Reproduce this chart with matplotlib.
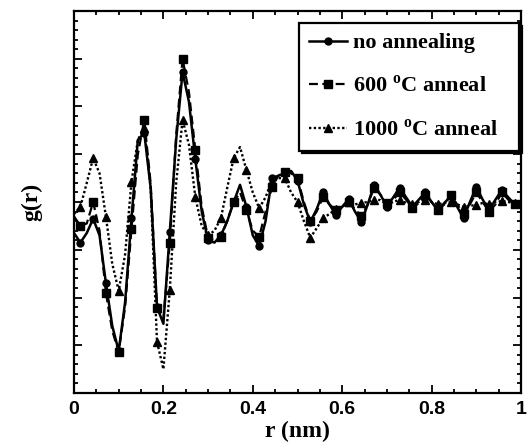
import numpy as np
import matplotlib
matplotlib.use("Agg")
import matplotlib.pyplot as plt
from matplotlib.ticker import MultipleLocator

plt.rcParams["mathtext.fontset"] = "custom"
plt.rcParams["mathtext.rm"] = "Liberation Serif:bold"
plt.rcParams["mathtext.bf"] = "Liberation Serif:bold"

# r grid (nm), step 1/70
r = np.arange(71) / 70.0

g_none = [3.35, 3.15, 3.35, 3.65, 3.30, 2.30, 1.40, 0.88, 1.90, 3.66,
          5.30, 5.45, 4.30, 1.80, 1.45, 3.37, 5.30, 6.72, 6.10, 4.90,
          3.80, 3.20, 3.15, 3.30, 3.60, 4.00, 4.36, 3.90, 3.30, 3.08,
          3.60, 4.50, 4.55, 4.60, 4.65, 4.45, 3.95, 3.58, 3.85, 4.20,
          3.95, 3.73, 3.90, 4.06, 3.80, 3.58, 3.95, 4.36, 4.15, 3.90,
          4.10, 4.30, 4.10, 3.90, 4.05, 4.20, 4.00, 3.83, 3.98, 4.12,
          3.90, 3.66, 4.00, 4.31, 4.05, 3.83, 4.05, 4.25, 4.10, 3.95,
          3.98]

g_600 = [3.70, 3.50, 3.55, 4.00, 3.40, 2.09, 1.30, 0.86, 1.80, 3.43,
         5.00, 5.72, 4.40, 1.78, 1.55, 3.14, 5.40, 7.00, 6.30, 5.09,
         3.90, 3.25, 3.20, 3.27, 3.60, 4.00, 4.20, 3.83, 3.40, 3.27,
         3.80, 4.31, 4.55, 4.63, 4.60, 4.50, 4.00, 3.60, 3.80, 4.10,
         3.95, 3.83, 3.90, 4.00, 3.85, 3.70, 3.95, 4.30, 4.15, 3.98,
         4.05, 4.20, 4.05, 3.87, 3.98, 4.15, 4.00, 3.83, 3.95, 4.15,
         3.95, 3.75, 3.95, 4.20, 4.00, 3.79, 3.95, 4.20, 4.05, 3.95,
         3.98]

g_1000 = [3.75, 3.90, 4.40, 4.92, 4.60, 3.69, 2.70, 2.14, 2.90, 4.42,
          5.30, 5.55, 4.30, 1.07, 0.50, 2.16, 4.40, 5.72, 5.20, 4.10,
          3.50, 3.30, 3.40, 3.66, 4.30, 4.92, 5.15, 4.67, 4.20, 3.87,
          4.10, 4.45, 4.50, 4.50, 4.20, 4.00, 3.60, 3.25, 3.45, 3.66,
          3.75, 3.85, 3.90, 4.00, 3.95, 3.98, 4.00, 4.05, 4.04, 3.95,
          4.00, 4.05, 3.98, 3.95, 4.00, 4.05, 4.00, 3.95, 3.98, 4.00,
          3.95, 3.90, 3.92, 3.94, 3.98, 3.95, 4.00, 4.02, 4.00, 3.97,
          3.98]

labels = ["no annealing", "600 $^\\mathrm{o}$C anneal",
          "1000 $^\\mathrm{o}$C anneal\u2002 "]

fig = plt.figure(figsize=(5.31, 4.47), dpi=100)
ax = fig.add_axes([74 / 531, 54 / 447, 447 / 531, 382 / 447])

mk = slice(1, None, 2)
ax.plot(r, g_none, color="black", lw=1.8, ls="-", marker="o", ms=5, markevery=mk, label=labels[0])
ax.plot(r, g_600, color="black", lw=1.6, ls=(0, (4, 2)), marker="s", ms=5.5, markevery=mk, label=labels[1])
ax.plot(r, g_1000, color="black", lw=1.7, ls=(0, (1, 1)), marker="^", ms=5.5, markevery=mk, label=labels[2])

ax.set_xlim(0, 1)
ax.set_ylim(0, 8)
ax.xaxis.set_minor_locator(MultipleLocator(0.05))
ax.yaxis.set_major_locator(MultipleLocator(1))
ax.yaxis.set_minor_locator(MultipleLocator(0.2))
ax.set_xticks([0, 0.2, 0.4, 0.6, 0.8, 1.0])
ax.set_xticklabels(["0", "0.2", "0.4", "0.6", "0.8", "1"])
ax.set_yticklabels([])
ax.tick_params(which="both", direction="in", top=True, right=True, width=1.3)
ax.tick_params(which="major", length=6)
ax.tick_params(which="minor", length=3)
for lab in ax.get_xticklabels():
    lab.set_fontfamily("Liberation Sans")
    lab.set_fontweight("bold")
    lab.set_fontsize(14)
ax.tick_params(axis="x", pad=6)
for s in ax.spines.values():
    s.set_linewidth(1.6)

ax.set_xlabel("r (nm)", family="Liberation Serif", weight="bold", fontsize=17, labelpad=2)
ax.set_ylabel("g(r)", family="Liberation Serif", weight="bold", fontsize=17, labelpad=19)

leg = ax.legend(loc="upper right", bbox_to_anchor=(0.9955, 0.969), borderaxespad=0,
                prop={"family": "Liberation Serif", "weight": "bold", "size": 16},
                handlelength=1.7, handletextpad=0.25, labelspacing=1.0,
                borderpad=0.45, fancybox=False, framealpha=1,
                shadow={"color": "black", "alpha": 1})
leg.get_frame().set_edgecolor("black")
leg.get_frame().set_linewidth(1.6)

fig.savefig("out.png", dpi=100)
